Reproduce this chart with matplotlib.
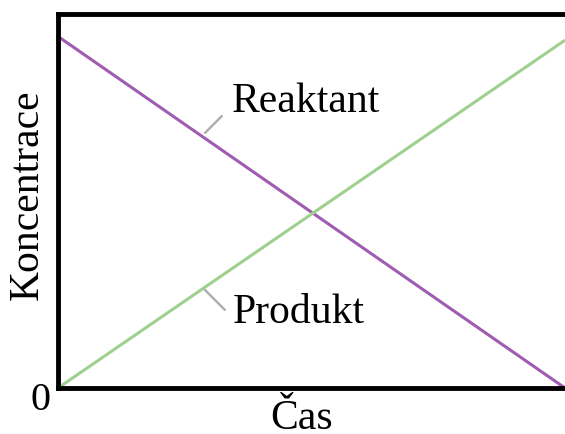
import matplotlib
matplotlib.use("Agg")
import matplotlib.pyplot as plt

# time axis (normalised) and concentrations
cas = [0.0, 1.0]
reaktant = [0.94, 0.0]
produkt = [0.0, 0.93]

purple = "#a05cb0"
green = "#9ed08f"
grey = "#b0b0b0"


def main():
    plt.rcParams["font.family"] = ["Liberation Serif", "DejaVu Serif"]
    fig = plt.figure(figsize=(5.65, 4.34), dpi=100)
    # axes reaches past the right edge, so the right spine is cut off
    ax = fig.add_axes([58 / 565, (434 - 388) / 434, 1.0 - 58 / 565, 374 / 434])

    ax.plot(cas, reaktant, color=purple, lw=2.2, solid_capstyle="butt")
    ax.plot(cas, produkt, color=green, lw=2.2, solid_capstyle="butt")

    ax.set_xlim(0, 1)
    ax.set_ylim(0, 1)
    for s in ax.spines.values():
        s.set_linewidth(3.5)
    ax.spines["right"].set_visible(False)
    ax.set_xticks([])
    ax.set_yticks([])

    # axis texts placed by hand (pixel positions from the top-left);
    # "Čas" sits on the bottom edge like in the reference (no descenders)
    fig.text(41 / 565, 1 - 410 / 434, "0", fontsize=29, ha="center", va="baseline")
    fig.text(302 / 565, 1 - 429 / 434, "Čas", fontsize=30, ha="center", va="baseline")
    fig.text(28 / 565, 1 - 195 / 434, "Koncentrace", fontsize=30,
             rotation=90, ha="center", va="center")

    # series labels with short grey leader lines
    lead = dict(arrowstyle="-", color=grey, lw=1.8, shrinkA=0, shrinkB=0)
    ax.annotate("", xy=(0.290, 0.682), xytext=(0.323, 0.727), arrowprops=lead)
    ax.text(0.343, 0.738, "Reaktant", fontsize=30, ha="left", va="baseline")
    ax.annotate("", xy=(0.290, 0.262), xytext=(0.329, 0.209), arrowprops=lead)
    ax.text(0.345, 0.174, "Produkt", fontsize=30, ha="left", va="baseline")

    fig.savefig("out.png", dpi=100)


if __name__ == "__main__":
    main()
